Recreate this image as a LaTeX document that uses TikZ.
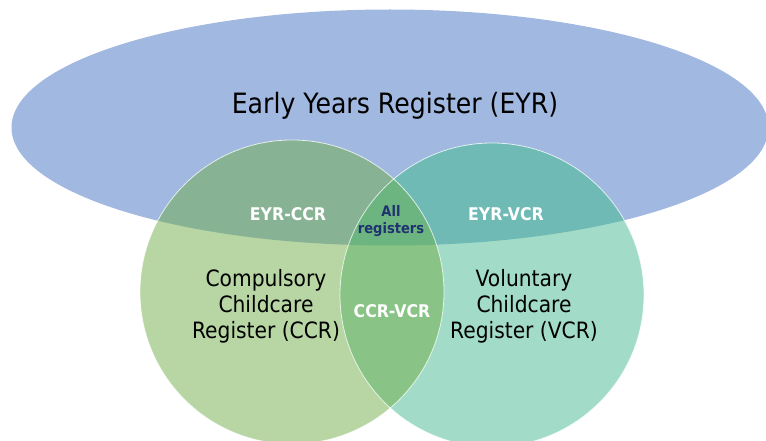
\documentclass[tikz,border=0pt]{standalone}
\usepackage{fontspec}
\setmainfont{DejaVu Sans}[FakeStretch=0.9]
\definecolor{eyr}{HTML}{A1B8E0}
\definecolor{ccr}{HTML}{B7D6A4}
\definecolor{vcr}{HTML}{A2DCC8}
\definecolor{eyrccr}{HTML}{87B294}
\definecolor{eyrvcr}{HTML}{70BAB6}
\definecolor{ccrvcr}{HTML}{89C486}
\definecolor{allreg}{HTML}{6CB480}
\definecolor{navy}{HTML}{1F3370}
\begin{document}
\begin{tikzpicture}[x=1pt,y=-1pt,
  bigtext/.style={font=\fontsize{28}{32}\selectfont, text=black},
  regtext/.style={font=\fontsize{22.5}{26}\selectfont, align=center, text=black},
  pairtext/.style={font=\bfseries\fontsize{17.5}{20}\selectfont, text=white},
  alltext/.style={font=\bfseries\fontsize{14.5}{17}\selectfont, align=center, text=navy},
  rim/.style={draw=white, draw opacity=0.75, line width=0.8pt}]
\useasboundingbox (0,0) rectangle (766,441);
\clip (0,0) rectangle (766,441);
% sets
\fill[eyr] (390,127.5) ellipse [x radius=378.5, y radius=118];
\fill[ccr] (292,292) circle [radius=152];
\fill[vcr] (492,295) circle [radius=152];
% overlaps
\begin{scope}
  \clip (390,127.5) ellipse [x radius=378.5, y radius=118];
  \fill[eyrccr] (292,292) circle [radius=152];
  \fill[eyrvcr] (492,295) circle [radius=152];
\end{scope}
\begin{scope}
  \clip (292,292) circle [radius=152];
  \fill[ccrvcr] (492,295) circle [radius=152];
  \clip (390,127.5) ellipse [x radius=378.5, y radius=118];
  \fill[allreg] (492,295) circle [radius=152];
\end{scope}
% rims
\path[rim] (292,292) circle [radius=152];
\path[rim] (492,295) circle [radius=152];
% labels
\node[bigtext] (eyrlbl) at (395,106) {Early Years Register (EYR)};
\node[regtext] (ccrlbl) at (266,306) {Compulsory\\Childcare\\Register (CCR)};
\node[regtext] (vcrlbl) at (524,306) {Voluntary\\Childcare\\Register (VCR)};
\node[pairtext] (eyrccr) at (288,214) {EYR-CCR};
\node[pairtext] (eyrvcr) at (506,214) {EYR-VCR};
\node[pairtext] (ccrvcr) at (392,311) {CCR-VCR};
\node[alltext] (all) at (391,221) {All\\registers};
\end{tikzpicture}
\end{document}
